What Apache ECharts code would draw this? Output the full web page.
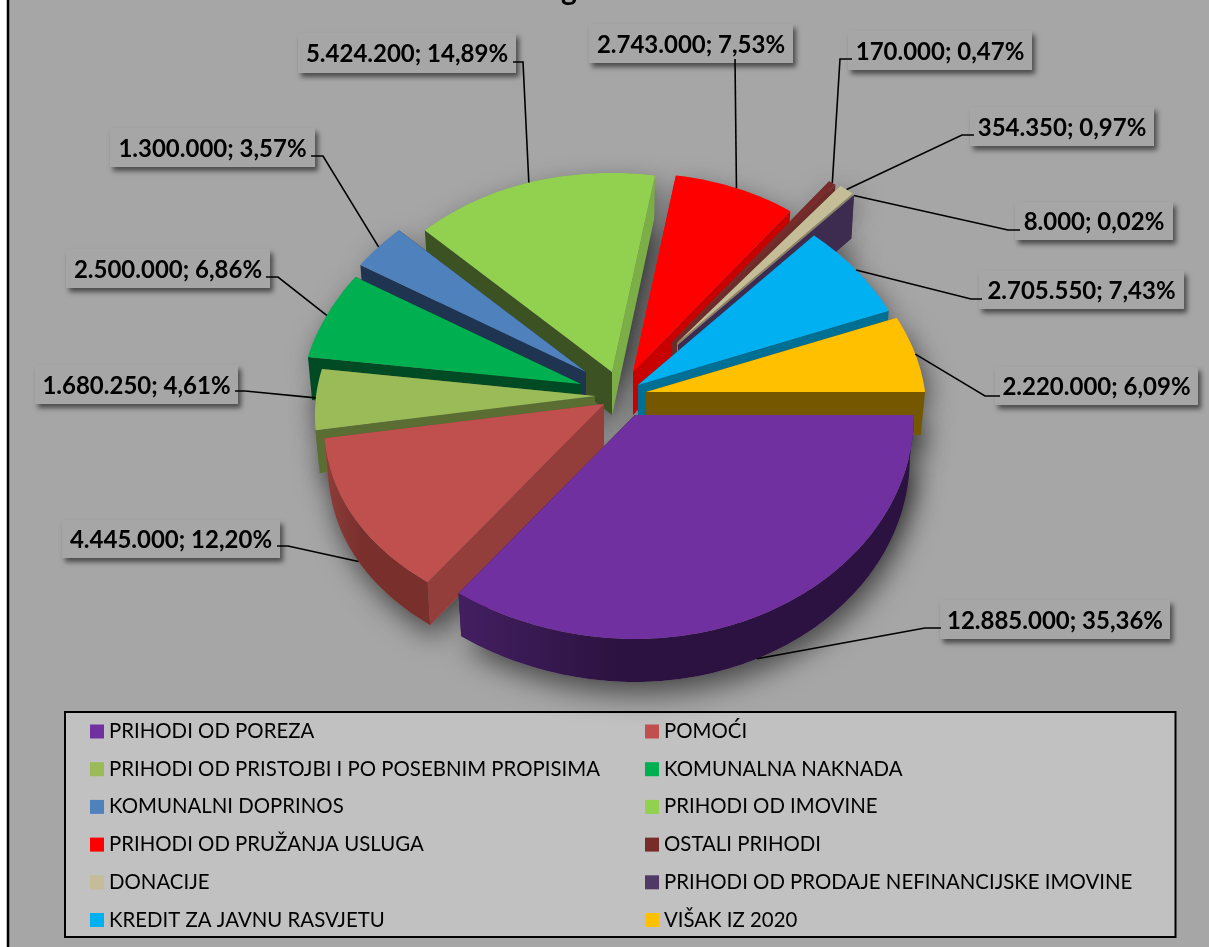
<!DOCTYPE html>
<html>
<head>
<meta charset="utf-8">
<style>html,body{margin:0;padding:0;background:#fff}#c{width:1209px;height:947px}</style>
<script src="https://cdn.jsdelivr.net/npm/echarts@6/dist/echarts.min.js"></script>
</head>
<body>
<div id="c"></div>
<script>
// ---- data ----
const categories = ['PRIHODI OD POREZA','POMOĆI','PRIHODI OD PRISTOJBI I PO POSEBNIM PROPISIMA','KOMUNALNA NAKNADA','KOMUNALNI DOPRINOS','PRIHODI OD IMOVINE','PRIHODI OD PRUŽANJA USLUGA','OSTALI PRIHODI','DONACIJE','PRIHODI OD PRODAJE NEFINANCIJSKE IMOVINE','KREDIT ZA JAVNU RASVJETU','VIŠAK IZ 2020'];
const values = [12885000,4445000,1680250,2500000,1300000,5424200,2743000,170000,354350,8000,2705550,2220000];

// ---- styles ----
const topColors = ['#7030a0','#c0504d','#9bbb59','#00b050','#4f81bd','#92d050','#ff0000','#772c2a','#c4bd97','#4f3a67','#00b0f0','#ffc000'];
const wallStart = ['#2a103e','#943e3b','#5a6e33','#004a24','#1f3450','#3d5222','#d80000','#772c2a','#8a8268','#3d2b50','#006f94','#755700'];
const wallEnd   = ['#2a103e','#943e3b','#5a6e33','#004a24','#1f3450','#7cae47','#c80000','#6b2c2a','#8a8268','#3d2b50','#006f94','#755700'];
const arcLeft   = ['#431f61','#8f3d3a','#5a6e33','#004a24','#1f3450','#3d5222','#c80000','#6b2c2a','#8a8268','#3d2b50','#006f94','#755700'];
const arcRight  = ['#2c1240','#79302d','#5a6e33','#004a24','#1f3450','#3d5222','#c80000','#6b2c2a','#8a8268','#3d2b50','#006f94','#755700'];
// ---- layout ----
const apex = [[635,415],[604,404],[595,396],[581,384],[586,372],[612,372],[633,372],[672,342],[677,343],[678,345],[638,385],[646,392]];
const drawOrder = [5,6,7,8,9,4,3,2,10,11,1,0];
const labelBox = [[940,600,1170,639],[62,520,280,558],[35,365,238,404],[66,249,270,288],[110,128,315,167],[298,33,516,73],[589,24,793,63],[848,31,1032,70],[970,107,1154,146],[1015,202,1173,240],[979,271,1184,309],[995,367,1198,405]];
const leaderStart = [[941,628],[277,546],[235,391],[266,277],[311,156],[513,62],[735,59],[852,59],[974,135],[1020,230],[982,299],[1000,396]];
const leaderElbow = [[925,628],[288,546],[245,391],[278,277],[323,156],[523,62],[735,59],[840,59],[962,135],[1008,230],[971,299],[985,396]];
const legendLeft = [0,2,4,6,8,10];
const legendRight = [1,3,5,7,9,11];
const RX = 279, RY_DOWN = 224, RY_UP = 199, DEPTH = 43;

const total = values.reduce((a,b)=>a+b,0);
const startAngle = [], endAngle = [];
values.reduce((acc,v,i)=>{ startAngle[i]=acc/total*360; endAngle[i]=(acc+v)/total*360; return acc+v; },0);

function rimPoint(i,deg,down){
  const t = deg*Math.PI/180, c = Math.cos(t), s = Math.sin(t);
  let ux = RX*c;
  if(s<0) ux *= 1-0.045*Math.abs(Math.sin(2*t));
  else if(c<0) ux *= 1+0.045*Math.abs(Math.sin(2*t));
  const uy = s>=0 ? RY_DOWN*s : RY_UP*s;
  return [apex[i][0]+ux*(down?0.985:1), apex[i][1]+uy+(down?DEPTH:0)];
}
function arcPoints(i,a,b,down){
  const pts=[], n=Math.max(2,Math.ceil((b-a)));
  for(let k=0;k<=n;k++) pts.push(rimPoint(i,a+(b-a)*k/n,down));
  return pts;
}
function wall(i,deg){
  const ap=apex[i];
  return [ap,rimPoint(i,deg,false),rimPoint(i,deg,true),[ap[0],ap[1]+DEPTH]];
}
function poly(points,fill,extra){
  return {type:'polygon',silent:true,shape:{points},style:Object.assign({fill,stroke:null},extra||{})};
}
function sliceRender(i){
  return function(){
    const a=startAngle[i], b=endAngle[i], ch=[];
    ch.push(poly(wall(i,a),wallStart[i]));
    ch.push(poly(wall(i,b),wallEnd[i]));
    const la=Math.max(a,0), lb=Math.min(b,180);
    if(lb>la){
      const pts=arcPoints(i,la,lb,false).concat(arcPoints(i,la,lb,true).reverse());
      ch.push(poly(pts,{type:'linear',x:0,y:0,x2:1,y2:0,colorStops:[{offset:0,color:arcLeft[i]},{offset:0.35,color:arcRight[i]},{offset:1,color:arcRight[i]}]}));
    }
    ch.push(poly([apex[i]].concat(arcPoints(i,a,b,false)),topColors[i]));
    return {type:'group',children:ch};
  };
}
function shadowRender(params){
  const i=params.dataIndex, a=startAngle[i], b=endAngle[i];
  const pts=[[apex[i][0],apex[i][1]+DEPTH]].concat(arcPoints(i,a,b,true));
  const top=[apex[i]].concat(arcPoints(i,a,b,false));
  const sh={shadowBlur:28,shadowOffsetX:5,shadowOffsetY:12,shadowColor:'rgba(0,0,0,0.55)'};
  return {type:'group',children:[poly(pts,'#8a8a8a',sh),poly(top,'#8a8a8a',sh)]};
}
function fmt(v){ return String(v).replace(/\B(?=(\d{3})+$)/g,'.'); }
function labelText(i){ return fmt(values[i])+'; '+(values[i]/total*100).toFixed(2).replace('.',',')+'%'; }
function labelRender(params){
  const i=params.dataIndex, m=(startAngle[i]+endAngle[i])/2;
  const onWall = m<170;
  const anchor = rimPoint(i,m,onWall);
  const box=labelBox[i];
  return {type:'group',children:[
    {type:'rect',silent:true,shape:{x:box[0],y:box[1],width:box[2]-box[0],height:box[3]-box[1]},
     style:{fill:'#a6a6a6',shadowBlur:5,shadowOffsetX:3,shadowOffsetY:4,shadowColor:'rgba(0,0,0,0.55)'}},
    {type:'polyline',silent:true,shape:{points:[leaderStart[i],leaderElbow[i],anchor]},style:{fill:null,stroke:'#000',lineWidth:1.6}},
    {type:'text',silent:true,style:{text:labelText(i),x:(box[0]+box[2])/2,y:(box[1]+box[3])/2+1.5,align:'center',verticalAlign:'middle',
      font:'bold 24px Lato',fill:'#000'}}
  ]};
}
const series = [
  {type:'custom',name:'shadow',coordinateSystem:'none',z:1,silent:true,animation:false,clip:false,data:values.map((v,i)=>[i]),renderItem:shadowRender},
  {type:'custom',name:'labels',coordinateSystem:'none',z:30,silent:true,animation:false,clip:false,data:values.map((v,i)=>[i]),renderItem:labelRender}
];
categories.forEach((name,i)=>{
  series.push({type:'custom',name,coordinateSystem:'none',z:5+drawOrder.indexOf(i),silent:true,animation:false,clip:false,
    itemStyle:{color:topColors[i]},data:[[values[i]]],renderItem:sliceRender(i)});
});
const legendBase = {orient:'vertical',top:720.5,itemWidth:14,itemHeight:14,itemGap:15.7,padding:0,selectedMode:false,icon:'rect',
  textStyle:{fontFamily:'Lato',fontSize:20.4,color:'#000',lineHeight:22}};
const option = {
  backgroundColor:'#ffffff',
  animation:false,
  tooltip:{show:false},
  legend:[
    Object.assign({},legendBase,{left:90,data:legendLeft.map(i=>categories[i])}),
    Object.assign({},legendBase,{left:645,data:legendRight.map(i=>categories[i])})
  ],
  graphic:[
    {type:'rect',z:-10,silent:true,shape:{x:8,y:-4,width:1210,height:960},style:{fill:'#a6a6a6',stroke:'#000',lineWidth:2.5}},
    {type:'text',z:-9,silent:true,style:{text:'g',x:569,y:-25,align:'center',verticalAlign:'top',font:'bold 30px Lato',fill:'#000'}},
    {type:'rect',z:-5,silent:true,shape:{x:65,y:712,width:1110.5,height:225},style:{fill:'#c1c1c1',stroke:'#000',lineWidth:2}}
  ],
  series
};
echarts.init(document.getElementById('c'),null,{renderer:'canvas'}).setOption(option);
</script>
</body>
</html>
